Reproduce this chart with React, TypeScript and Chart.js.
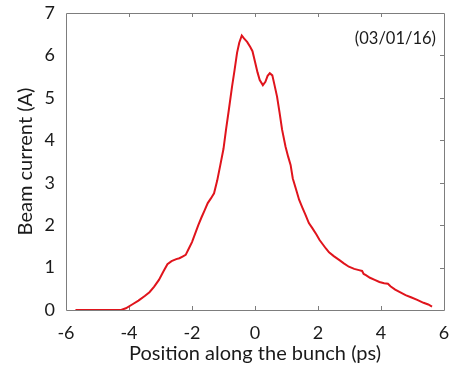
import { useEffect, useRef } from "react";
import { Chart, registerables } from "chart.js";

Chart.register(...registerables);

// Longitudinal bunch profile: position (ps) vs beam current (A)
const positionPs = [
  -5.7, -4.25, -4.1, -3.9, -3.7, -3.5, -3.35, -3.2, -3.05, -2.9, -2.78, -2.65,
  -2.5, -2.4, -2.3, -2.2, -2.1, -2.0, -1.9, -1.8, -1.7, -1.6, -1.5, -1.4, -1.3,
  -1.2, -1.1, -1.0, -0.92, -0.83, -0.73, -0.65, -0.57, -0.5, -0.42, -0.35,
  -0.25, -0.15, -0.08, 0.0, 0.08, 0.15, 0.25, 0.33, 0.4, 0.47, 0.55, 0.62, 0.7,
  0.78, 0.86, 0.97, 1.05, 1.13, 1.2, 1.3, 1.4, 1.5, 1.6, 1.71, 1.82, 1.95, 2.05,
  2.15, 2.25, 2.35, 2.5, 2.67, 2.82, 2.98, 3.15, 3.3, 3.4, 3.45, 3.52, 3.65,
  3.8, 3.95, 4.1, 4.22, 4.3, 4.45, 4.6, 4.78, 4.95, 5.15, 5.35, 5.5, 5.62,
];
const currentA = [
  0, 0, 0.04, 0.13, 0.22, 0.33, 0.42, 0.55, 0.71, 0.92, 1.08, 1.15,
  1.2, 1.22, 1.26, 1.3, 1.45, 1.6, 1.8, 2.0, 2.18, 2.35, 2.52, 2.63, 2.75,
  3.05, 3.42, 3.8, 4.25, 4.72, 5.26, 5.65, 6.06, 6.3, 6.47, 6.4,
  6.32, 6.2, 6.1, 5.85, 5.6, 5.42, 5.3, 5.38, 5.52, 5.58, 5.53, 5.3, 5.03,
  4.65, 4.25, 3.85, 3.62, 3.42, 3.1, 2.85, 2.6, 2.42, 2.25, 2.05, 1.93, 1.78, 1.65,
  1.55, 1.45, 1.36, 1.27, 1.18, 1.1, 1.02, 0.97, 0.94, 0.92, 0.85, 0.82, 0.76,
  0.71, 0.66, 0.63, 0.62, 0.56, 0.48, 0.42, 0.35, 0.3, 0.24, 0.17, 0.13, 0.08,
];

const xTicks = [-6, -4, -2, 0, 2, 4, 6];
const yTicks = [0, 1, 2, 3, 4, 5, 6, 7];
const dateLabel = "(03/01/16)";
const xTitle = "Position along the bunch (ps)";
const yTitle = "Beam current (A)";

const FONT = "Lato, 'DejaVu Sans', sans-serif";
const TEXT = "#1a1a1a";
const FRAME = "#7d7d7d";

// Box around the plot with small inward mirror ticks, plus the date tag
const framePlugin = {
  id: "frameBox",
  beforeDatasetsDraw(chart: any) {
    const { ctx, chartArea, scales } = chart;
    const { left, right, top, bottom } = chartArea;
    const x = scales.x;
    const y = scales.y;
    const len = 4;
    ctx.save();
    ctx.strokeStyle = FRAME;
    ctx.lineWidth = 1;
    ctx.beginPath();
    ctx.rect(Math.round(left) + 0.5, Math.round(top) + 0.5, Math.round(right - left), Math.round(bottom - top));
    xTicks.slice(1, -1).forEach((v) => {
      const px = Math.round(x.getPixelForValue(v)) + 0.5;
      ctx.moveTo(px, bottom);
      ctx.lineTo(px, bottom - len);
      ctx.moveTo(px, top);
      ctx.lineTo(px, top + len);
    });
    yTicks.slice(1, -1).forEach((v) => {
      const py = Math.round(y.getPixelForValue(v)) + 0.5;
      ctx.moveTo(right, py);
      ctx.lineTo(right - len, py);
    });
    ctx.stroke();
    ctx.restore();
  },
  afterDraw(chart: any) {
    const { ctx, chartArea } = chart;
    ctx.save();
    ctx.fillStyle = TEXT;
    ctx.font = `16.5px ${FONT}`;
    ctx.textAlign = "right";
    ctx.textBaseline = "middle";
    ctx.fillText(dateLabel, chartArea.right - 8, chartArea.top + 26);
    ctx.restore();
  },
};

// Keep the plot box exactly where the layout puts it (no label overhang padding)
const noOverhang = (s: any) => {
  s.paddingLeft = 0;
  s.paddingRight = 0;
  s.paddingTop = 0;
  s.paddingBottom = 0;
};

export default function App() {
  const canvasRef = useRef<HTMLCanvasElement | null>(null);

  useEffect(() => {
    const canvas = canvasRef.current;
    if (!canvas) return;
    const points = positionPs.map((p, i) => ({ x: p, y: currentA[i] }));
    const chart = new Chart(canvas, {
      type: "scatter",
      data: {
        datasets: [
          {
            data: points,
            showLine: true,
            borderColor: "#e0141c",
            borderWidth: 2,
            pointRadius: 0,
            tension: 0,
            fill: false,
          },
        ],
      },
      options: {
        responsive: false,
        animation: false,
        events: [],
        layout: { padding: { top: 13, right: 7, left: 0, bottom: 0 } },
        plugins: {
          legend: { display: false },
          tooltip: { enabled: false },
        },
        scales: {
          x: {
            type: "linear",
            min: -6,
            max: 6,
            afterFit: (s: any) => {
              s.height = 56;
              noOverhang(s);
            },
            afterBuildTicks: (s: any) => {
              s.ticks = xTicks.map((v) => ({ value: v }));
            },
            grid: { display: false, drawTicks: false },
            border: { display: false },
            ticks: {
              padding: 12,
              color: TEXT,
              font: { family: FONT, size: 18 },
              maxRotation: 0,
            },
            title: {
              display: true,
              text: xTitle,
              color: TEXT,
              font: { family: FONT, size: 20 },
              padding: { top: 0, bottom: 0 },
            },
          },
          y: {
            type: "linear",
            min: 0,
            max: 7,
            afterFit: (s: any) => {
              s.width = 66;
              noOverhang(s);
            },
            afterBuildTicks: (s: any) => {
              s.ticks = yTicks.map((v) => ({ value: v }));
            },
            grid: { display: false, drawTicks: false },
            border: { display: false },
            ticks: {
              padding: 11,
              color: TEXT,
              font: { family: FONT, size: 18 },
            },
            title: {
              display: true,
              text: yTitle,
              color: TEXT,
              font: { family: FONT, size: 20 },
              padding: { top: 14, bottom: 0 },
            },
          },
        },
      },
      plugins: [framePlugin],
    } as any);
    return () => chart.destroy();
  }, []);

  return (
    <div style={{ position: "fixed", left: 0, top: 0, width: 451, height: 366, background: "#fff" }}>
      <canvas ref={canvasRef} width={451} height={366} style={{ width: 451, height: 366 }} />
    </div>
  );
}
